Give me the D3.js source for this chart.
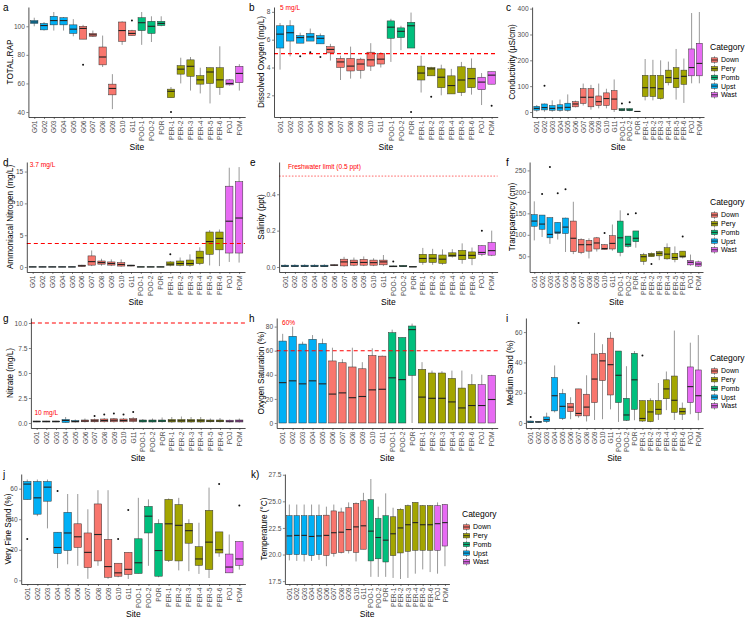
<!DOCTYPE html>
<html>
<head>
<meta charset="utf-8">
<script src="https://cdn.jsdelivr.net/npm/d3@7"></script>
<style>
  body { margin: 0; background: #fff; }
  svg { font-family: "Liberation Sans", Arial, sans-serif; }
</style>
</head>
<body>
<svg id="chart" width="746" height="621"></svg>
<script>
// sites and categories
const sites = ["G01","G02","G03","G04","G05","G06","G07","G08","G09","G10","G11",
  "POO-1","POO-2","POR","PER-1","PER-2","PER-3","PER-4","PER-5","PER-6","POJ","POM"];
const siteCategory = ["Upst","Upst","Upst","Upst","Upst","Down","Down","Down","Down","Down","Down",
  "Pomb","Pomb","Pomb","Pery","Pery","Pery","Pery","Pery","Pery","Wast","Wast"];
const categories = ["Down","Pery","Pomb","Upst","Wast"];
const categoryColors = ["#F8766D","#A3A500","#00BF7D","#00B0F6","#E76BF3"];

// box stats per site: [lower whisker, Q1, median, Q3, upper whisker]
const totalRap = [[100,102,103,104,106],[97,97.5,100.5,102,103],[97,101,104,107,110],[97,101,104,106,106.5],
  [93,95,98,101,105],[91,91,98.5,100,101],[92.5,93,94,95,97],[71.5,73,78.5,85.5,93.5],[42,52,56.5,59.5,66.5],
  [87,89.5,97,103,103.5],[93.5,93.5,95,97,97.5],[87,97,102.5,106,110],[89,95,100,103.5,107],[100,100.5,102,103.5,107],
  [50,50,54.5,56,57.5],[60,66.5,70,72.5,78],[55,65,72,76.5,78.5],[53,59.5,62.5,65.5,71],[46,60,68,71,71],
  [52,57,62.5,71,86],[58.5,59,60,62.5,63],[55,60.5,67,72,73.5]];
const totalRapOut = [["G06",73],["G11",104],["PER-1",40]];

const dissolvedOxygen = [[3.85,5.4,6.4,7.0,7.2],[4.8,5.9,6.5,7.0,7.4],[5.75,5.75,6.15,6.3,6.5],[5.9,5.9,6.2,6.45,6.8],
  [5.7,5.7,6.1,6.3,6.45],[4.5,5.05,5.3,5.5,5.7],[3.1,4.0,4.4,4.65,4.85],[3.2,3.75,4.1,4.65,5.5],[3.2,3.8,4.25,4.6,4.7],
  [3.75,4.1,4.55,5.1,5.75],[4.0,4.25,4.6,5.0,5.1],[4.4,6.1,6.9,7.35,7.5],[5.25,6.15,6.6,6.85,7.0],[5.4,5.4,7.0,7.25,7.95],
  [2.2,3.1,3.6,4.1,4.85],[3.4,3.4,3.9,4.0,4.05],[2.0,2.55,3.3,3.9,4.2],[2.1,2.1,2.7,3.4,3.9],[1.95,2.2,3.1,4.05,4.4],
  [2.05,2.55,3.2,3.95,4.65],[1.3,2.4,2.95,3.3,3.6],[2.8,2.8,3.45,3.7,3.7]];
const dissolvedOxygenOut = [["G03",4.8],["G04",5.1],["G05",4.75],["POR",0.8],["PER-2",1.9],["POM",1.25]];

const conductivity = [[1,7,14,22,27],[1,8,17,31,33],[1,6.5,14,25,45],[1,6.5,16,28,48],[1,6.5,18,34,68],
  [18,20,31,40,44],[25,33,57,90,110],[9,20,57,90,105],[14,25,40,62,110],[14,25,52,74,90],[0,9,50,83,126],
  [3,5,8,13,14],[3,5,8,13,14],[0,1,2,3,3],[45,60,94,142,205],[45,60,94,142,202],[48,52,90,142,200],
  [103,113,133,162,195],[48,94,130,172,244],[35,107,138,162,207],[111,140,172,244,383],[111,140,188,266,387]];
const conductivityOut = [["G02",102],["POO-1",33],["POO-2",38]];

const ammonia = [[0,0,0.02,0.04,0.06],[0,0,0.02,0.04,0.06],[0,0,0.02,0.04,0.06],[0,0,0.02,0.04,0.06],[0,0,0.02,0.04,0.06],
  [0.05,0.1,0.2,0.3,0.35],[0.15,0.3,0.85,1.75,2.6],[0.2,0.45,0.7,0.95,1.3],[0.15,0.3,0.55,0.8,1.2],[0.05,0.15,0.4,0.7,1.2],
  [0.1,0.15,0.25,0.3,0.35],[0,0,0.02,0.04,0.06],[0,0,0.02,0.04,0.06],[0,0,0.02,0.04,0.06],[0.1,0.27,0.45,0.8,0.95],
  [0.1,0.27,0.55,0.95,1.5],[0.05,0.27,0.55,1.1,2.0],[0.3,0.55,1.45,2.5,3.1],[0.25,2.0,4.0,5.5,5.8],[0.15,2.7,4.5,5.5,5.9],
  [0.8,2.2,7.2,12.7,15.6],[0.7,2.2,7.7,13.4,15.7]];
const ammoniaOut = [["PER-1",2.0]];

const salinity = [[0,0.002,0.005,0.01,0.015],[0,0.002,0.005,0.01,0.015],[0,0.002,0.005,0.01,0.015],[0,0.002,0.005,0.01,0.015],
  [0,0.002,0.005,0.01,0.015],[0.005,0.008,0.01,0.012,0.015],[0.002,0.006,0.028,0.043,0.056],[0.005,0.01,0.025,0.038,0.052],
  [0.005,0.01,0.025,0.042,0.058],[0.005,0.01,0.024,0.038,0.048],[0.005,0.012,0.028,0.038,0.066],[0,0.001,0.003,0.006,0.008],
  [0,0.002,0.005,0.008,0.01],[0,0,0.001,0.002,0.002],[0.012,0.025,0.047,0.07,0.105],[0.012,0.025,0.048,0.07,0.1],
  [0.012,0.02,0.043,0.066,0.097],[0.052,0.058,0.064,0.078,0.098],[0.018,0.04,0.064,0.092,0.13],[0.01,0.046,0.064,0.083,0.107],
  [0.06,0.07,0.08,0.117,0.12],[0.06,0.065,0.09,0.135,0.2]];
const salinityOut = [["POO-1",0.03],["POJ",0.2]];

const transparency = [[87,120,132,147,178],[95,113,125,146,146],[79,93,101,140,140],[89,103,106,129,129],[60,103,118,139,140],
  [55,61,92,132,177],[55,59,77,89,92],[45,62,77,87,92],[61,67,81,93,95],[66,66,68,77,78],[63,67,80,98,124],
  [50,59,93,132,157],[70,73,78,97,97],[70,84,92,109,109],[30,38,49,54,58],[49,49,53,57,59],[41,51,57,61,63],
  [42,44,55,70,80],[36,42,47,57,73],[45,48,50,62,62],[28,30,36,40,54],[25,27,32,37,40]];
const transparencyOut = [["G02",195],["G03",258],["G04",197],["G05",206],["G10",104],["POO-2",148],["POR",150],["PER-2",32],["PER-6",96]];

const nitrate = [[0.08,0.1,0.15,0.2,0.22],[0.08,0.1,0.15,0.2,0.22],[0.08,0.1,0.15,0.2,0.22],[0.02,0.05,0.25,0.35,0.6],
  [0.05,0.1,0.15,0.25,0.35],[0.05,0.12,0.2,0.3,0.45],[0.05,0.12,0.22,0.35,0.45],[0.05,0.12,0.25,0.4,0.5],[0.05,0.12,0.28,0.42,0.5],
  [0.05,0.12,0.25,0.4,0.5],[0.05,0.15,0.3,0.45,0.6],[0.05,0.1,0.2,0.3,0.4],[0.05,0.1,0.2,0.3,0.45],[0.05,0.12,0.2,0.3,0.55],
  [0.02,0.1,0.22,0.35,0.6],[0.02,0.1,0.22,0.35,0.65],[0.02,0.1,0.22,0.35,0.6],[0.02,0.1,0.22,0.35,0.6],[0.05,0.12,0.2,0.3,0.45],
  [0.05,0.12,0.2,0.3,0.5],[0.05,0.1,0.18,0.28,0.35],[0.05,0.1,0.2,0.3,0.45]];
const nitrateOut = [["G07",0.7],["G08",0.85],["G09",0.95],["G10",0.85],["G11",1.1]];

const oxygenSat = [[0,0,33.5,68,74],[0,0,35,72,80],[0,0,32.5,65.5,67.5],[0,0,35,69.5,73],[0,0,32.5,66,70],
  [0,0,24,51.5,62.5],[0,0,25,50,53],[0,0,21,46.5,62.5],[0,0,22,45,50.5],[0,0,27.5,56,62],[0,0,28,55.5,56],
  [0,0,37.5,75,77.5],[0,0,36,71,71],[0,39.5,77.5,80.5,82.5],[0,0,21.5,44.5,50.5],[0,0,20.5,41.5,43.5],
  [0,0,20.5,41.5,43],[0,0,17.5,37,43.5],[0,0,12.5,29,43.5],[0,0,14.5,32,40.5],[0,0,14.5,32,40],[0,0,19.5,39.5,40]];
const oxygenSatOut = [];

const mediumSand = [[0,0.2,0.6,1.3,1.5],[0.3,0.5,0.7,0.9,1.0],[0,0.9,2.2,4,6.8],[7,8,18,30,38],[2,3,11,19.5,22.5],
  [2.5,7.5,10.5,13,17],[3.5,4.7,6.3,22.5,22.5],[1,4.7,10.5,19,31.5],[2,13.5,29,45.5,59.5],[2.5,28,41,46,52],
  [9,18.5,38.5,56,60],[0.7,13.5,31.5,47.5,47.5],[1.3,1.8,5.3,16.3,37.5],[1.8,9,28.5,46,47.5],[0.7,1.3,3,14.8,14.8],
  [0.5,0.9,7.3,14.8,16.3],[2,5.8,9,14.8,26.4],[8.5,16,22.5,28.5,34],[2,7,15,31,61],[2,5.8,7.5,9.8,13.5],
  [5.8,13.5,24,37,53],[1.8,7,18,35,58]];
const mediumSandOut = [["G01",4],["G07",66],["PER-1",44.5]];

const veryFineSand = [[52.9,52.9,63,64.7,66],[42,43.3,54,64.7,66],[34,51.8,61,64.7,66],[8,17.5,21.5,31.5,31.5],
  [10.5,19.5,31,44.5,56.5],[9.5,21.5,28.5,37,56.5],[1,8.3,18.3,31,46.5],[9.5,12.7,30,50,59],[1,2,9,26.8,59],
  [2,2.7,4.9,11.2,11.2],[0.9,3.8,7.2,18.3,18.3],[4.5,4.5,11.5,27.2,54],[9.5,31,42,48.4,53],[2,2.7,19.5,37.3,40],
  [12,13,37,53,53.6],[6.5,12.7,36,49.6,54],[6,24.3,32.5,37.3,40],[4.2,9.8,14,22,37.7],[1.5,7.1,25,45.8,60.7],
  [15.4,17.9,20,31.7,31.7],[4.9,4.9,8.7,17.2,30],[7,9.8,14,25.4,25.4]];
const veryFineSandOut = [["G01",27],["G04",58.5],["G10",27],["G11",46],["PER-6",63],["POM",49]];

const temperature = [[19.45,20.0,21.75,23.65,24.7],[19.4,20.0,21.8,23.65,24.7],[19.35,20.0,21.8,23.65,24.7],
  [19.4,19.9,21.7,23.65,24.7],[19.5,20.0,21.75,23.65,24.7],[18.9,19.9,21.8,23.7,24.5],[19.8,20.1,22.05,24.1,24.7],
  [20.1,20.2,22.1,24.0,24.4],[20.1,20.35,22.35,24.4,24.9],[19.35,20.2,22.6,24.8,24.9],[20.5,20.5,22.7,25.05,25.8],
  [17.9,19.4,22.2,25.15,27.1],[17.9,19.6,21.6,23.4,24.5],[17.9,19.3,21.35,23.65,25.75],[17.8,19.9,21.95,23.55,24.4],
  [17.7,20.15,22.5,24.25,24.35],[17.8,20.3,22.8,24.6,24.7],[18.2,20.4,23.0,24.9,24.9],[18.6,20.4,22.8,24.6,24.65],
  [18.35,20.4,22.8,24.6,24.65],[18.2,20.4,22.9,24.6,24.9],[18.9,20.8,23.0,24.7,24.75]];
const temperatureOut = [];

// reference lines: [panel, value, label, label x (site index), label y]
const refLines = [
  ["b", 5, "5 mg/L", 1, 8.3],
  ["d", 3.7, "3.7 mg/L", 1, 16],
  ["e", 0.5, "Freshwater limit (0.5 ppt)", 4, 0.55],
  ["g", 10, "10 mg/L", 1, 1.05],
  ["h", 60, "60%", 0.6, 83]
];

// panel layout
const rowTop = [0, 155, 311, 467];
const panels = [
  {tag:"a", title:"TOTAL.RAP", stats:totalRap, out:totalRapOut, domain:[36.5,113.5], ticks:[40,60,80,100], fmt:"d", row:0, left:28.4, right:245.2, tagX:3, titleX:10},
  {tag:"b", title:"Dissolved Oxygen (mg/L)", stats:dissolvedOxygen, out:dissolvedOxygenOut, domain:[0.44,8.35], ticks:[2,4,6,8], fmt:"d", row:0, left:274, right:497.7, tagX:249, titleX:261},
  {tag:"c", title:"Conductivity (\u00b5S/cm)", stats:conductivity, out:conductivityOut, domain:[-19.4,406.4], ticks:[0,100,200,300,400], fmt:"d", row:0, left:532.1, right:704, tagX:506, titleX:512, legendX:710},
  {tag:"d", title:"Ammoniacal Nitrogen (mg/L)", stats:ammonia, out:ammoniaOut, domain:[-0.78,16.5], ticks:[0,5,10,15], fmt:"d", row:1, left:26.8, right:245, tagX:3, titleX:10},
  {tag:"e", title:"Salinity (ppt)", stats:salinity, out:salinityOut, domain:[-0.0275,0.5775], ticks:[0,0.2,0.4], fmt:".1f", row:1, left:279.1, right:497.6, tagX:250, titleX:261},
  {tag:"f", title:"Transparency (cm)", stats:transparency, out:transparencyOut, domain:[13.4,269.6], ticks:[50,100,150,200,250], fmt:"d", row:1, left:529.6, right:703, tagX:506, titleX:512, legendX:710},
  {tag:"g", title:"Nitrate (mg/L)", stats:nitrate, out:nitrateOut, domain:[-0.5,10.5], ticks:[0,2.5,5,7.5,10], fmt:".1f", row:2, left:30.9, right:245.1, tagX:3, titleX:10},
  {tag:"h", title:"Oxygen Saturation (%)", stats:oxygenSat, out:oxygenSatOut, domain:[-4.15,87.15], ticks:[0,20,40,60,80], fmt:"d", row:2, left:276.7, right:497.7, tagX:249, titleX:261},
  {tag:"i", title:"Medium Sand (%)", stats:mediumSand, out:mediumSandOut, domain:[-3.3,69.3], ticks:[0,20,40,60], fmt:"d", row:2, left:525.9, right:703.1, tagX:506, titleX:510, legendX:710},
  {tag:"j", title:"Very Fine Sand (%)", stats:veryFineSand, out:veryFineSandOut, domain:[-2.4,69.6], ticks:[0,20,40,60], fmt:"d", row:3, left:21.2, right:245.4, tagX:3, titleX:8},
  {tag:"k)", title:"Temperature (\u00b0C)", stats:temperature, out:temperatureOut, domain:[17.23,27.57], ticks:[17.5,20,22.5,25,27.5], fmt:".1f", row:3, left:284.9, right:449.4, tagX:251, titleX:264, legendX:462}
];

const color = d3.scaleOrdinal().domain(categories).range(categoryColors);
const svg = d3.select("#chart");

panels.forEach(p => {
  const top = rowTop[p.row] + 7;
  const bottom = rowTop[p.row] + 117;
  const x = d3.scalePoint().domain(sites).range([p.left, p.right]).padding(0.6);
  const y = d3.scaleLinear().domain(p.domain).range([bottom, top]);
  const boxW = x.step() * 0.75;
  const g = svg.append("g");

  // boxes
  const boxes = g.selectAll(".box")
    .data(p.stats.map((s, i) => ({site: sites[i], cat: siteCategory[i], s})))
    .join("g").attr("class", "box");
  boxes.append("line")
    .attr("x1", d => x(d.site)).attr("x2", d => x(d.site))
    .attr("y1", d => y(d.s[0])).attr("y2", d => y(d.s[4]))
    .attr("stroke", "#333").attr("stroke-width", 0.5);
  boxes.append("rect")
    .attr("x", d => x(d.site) - boxW / 2)
    .attr("y", d => y(d.s[3]))
    .attr("width", boxW)
    .attr("height", d => Math.max(0.3, y(d.s[1]) - y(d.s[3])))
    .attr("fill", d => color(d.cat))
    .attr("stroke", "#333").attr("stroke-width", 0.5);
  boxes.append("line")
    .attr("x1", d => x(d.site) - boxW / 2).attr("x2", d => x(d.site) + boxW / 2)
    .attr("y1", d => y(d.s[2])).attr("y2", d => y(d.s[2]))
    .attr("stroke", "#222").attr("stroke-width", 1.1);

  // outliers
  g.selectAll(".out").data(p.out).join("circle")
    .attr("cx", d => x(d[0])).attr("cy", d => y(d[1])).attr("r", 1)
    .attr("fill", "#111");

  // reference line
  refLines.filter(r => r[0] === p.tag).forEach(r => {
    const dotted = p.tag === "e";
    g.append("line")
      .attr("x1", p.left).attr("x2", p.right)
      .attr("y1", y(r[1])).attr("y2", y(r[1]))
      .attr("stroke", "#ff0000")
      .attr("stroke-width", dotted ? 0.6 : 1.1)
      .attr("stroke-dasharray", dotted ? "1.6,1.6" : "4,3");
    g.append("text")
      .attr("x", x(sites[0]) + r[3] * x.step())
      .attr("y", y(r[4]))
      .attr("dy", "0.35em")
      .attr("text-anchor", "middle")
      .attr("font-size", 6.6)
      .attr("fill", "#ff0000")
      .text(r[2]);
  });

  // axes
  const yAxis = g.append("g")
    .attr("transform", `translate(${p.left},0)`)
    .call(d3.axisLeft(y).tickValues(p.ticks).tickFormat(d3.format(p.fmt)).tickSize(2).tickSizeOuter(0).tickPadding(1.5));
  const xAxis = g.append("g")
    .attr("transform", `translate(0,${bottom})`)
    .call(d3.axisBottom(x).tickSize(2).tickSizeOuter(0));
  xAxis.selectAll("text")
    .attr("x", -3.5).attr("y", 0).attr("dy", "0.32em")
    .attr("transform", "rotate(-90)")
    .attr("text-anchor", "end");
  [xAxis, yAxis].forEach(a => {
    a.select(".domain").attr("stroke", "#000").attr("stroke-width", 0.7);
    a.selectAll(".tick line").attr("stroke", "#333").attr("stroke-width", 0.6);
    a.selectAll(".tick text").attr("fill", "#4d4d4d").attr("font-size", 6.6);
  });

  // titles
  g.append("text")
    .attr("transform", `translate(${p.titleX},${(top + bottom) / 2}) rotate(-90)`)
    .attr("dy", "0.35em")
    .attr("text-anchor", "middle")
    .attr("font-size", 8.2)
    .text(p.title);
  g.append("text")
    .attr("x", (p.left + p.right) / 2)
    .attr("y", rowTop[p.row] + 150)
    .attr("text-anchor", "middle")
    .attr("font-size", 8.5)
    .text("Site");
  g.append("text")
    .attr("x", p.tagX).attr("y", rowTop[p.row] + 11)
    .attr("font-size", 10)
    .text(p.tag);

  // legend
  if (p.legendX) {
    const lg = g.append("g").attr("transform", `translate(${p.legendX},${rowTop[p.row] + 47})`);
    lg.append("text").attr("x", 0).attr("y", 0).attr("dy", "0.35em")
      .attr("font-size", 8.5).text("Category");
    const items = lg.selectAll(".key").data(categories).join("g")
      .attr("transform", (d, i) => `translate(1,${13 + i * 8.7})`);
    items.append("line").attr("x1", 3.5).attr("x2", 3.5).attr("y1", -3.8).attr("y2", 3.8)
      .attr("stroke", "#333").attr("stroke-width", 0.5);
    items.append("rect").attr("x", 0.3).attr("y", -2.2).attr("width", 6.4).attr("height", 4.4)
      .attr("fill", d => color(d)).attr("stroke", "#333").attr("stroke-width", 0.5);
    items.append("line").attr("x1", 0.3).attr("x2", 6.7).attr("y1", 0).attr("y2", 0)
      .attr("stroke", "#222").attr("stroke-width", 0.9);
    items.append("text").attr("x", 10).attr("y", 0).attr("dy", "0.35em")
      .attr("font-size", 7).text(d => d);
  }
});
</script>
</body>
</html>
